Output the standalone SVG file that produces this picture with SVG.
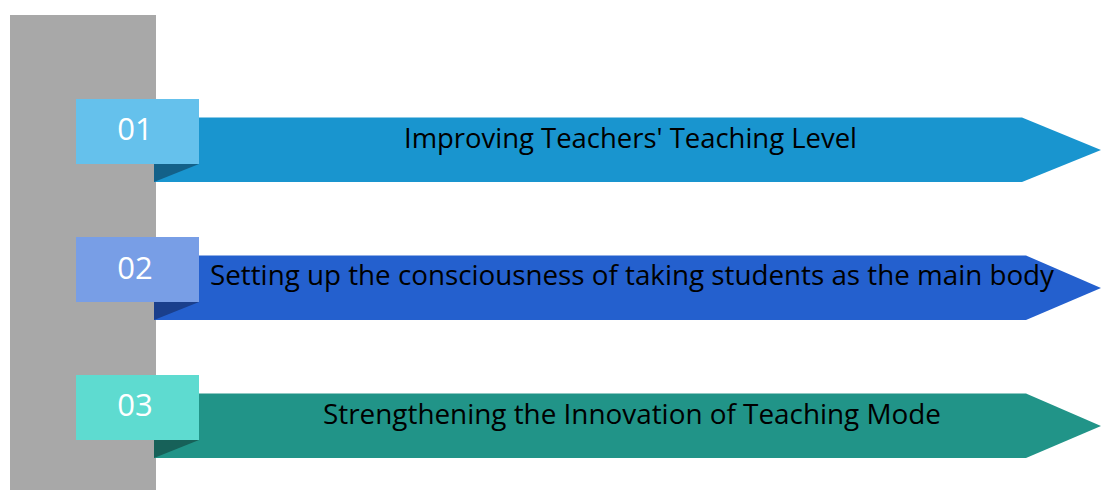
<svg xmlns="http://www.w3.org/2000/svg" width="1101" height="490" viewBox="0 0 1101 490">
<style>
.lbl{font-family:"Open Sans","Liberation Sans",sans-serif;font-size:28px;fill:#000;text-anchor:middle}
.num{font-family:"Open Sans","Liberation Sans",sans-serif;font-size:31px;fill:#fff;text-anchor:middle}
</style>
<rect x="0" y="0" width="1101" height="490" fill="#fff"/>
<rect id="bar" x="10" y="15" width="146" height="475" fill="#a8a8a8"/>
<g id="item1">
<polygon points="154,117.5 1022,117.5 1101,150 1022,182 154,182" fill="#1995cf"/>
<polygon points="154,164 199,164 154,182" fill="#136189"/>
<rect x="76" y="99" width="123" height="65" fill="#65c1ec"/>
<text class="num" x="135" y="139.5">01</text>
<text class="lbl" x="630.5" y="147.5" textLength="453" lengthAdjust="spacingAndGlyphs">Improving Teachers' Teaching Level</text>
</g>
<g id="item2">
<polygon points="154,255.5 1026,255.5 1101,288 1026,320 154,320" fill="#2460ce"/>
<polygon points="154,302 199,302 154,320" fill="#1a3f8c"/>
<rect x="76" y="237" width="123" height="65" fill="#789ee6"/>
<text class="num" x="135" y="278.5">02</text>
<text class="lbl" x="632" y="284.5" textLength="844" lengthAdjust="spacingAndGlyphs">Setting up the consciousness of taking students as the main body</text>
</g>
<g id="item3">
<polygon points="154,393.5 1026,393.5 1101,426 1026,458 154,458" fill="#219488"/>
<polygon points="154,440 199,440 154,458" fill="#176159"/>
<rect x="76" y="375" width="123" height="65" fill="#5edbd0"/>
<text class="num" x="135" y="415.5">03</text>
<text class="lbl" x="632" y="423.5" textLength="618" lengthAdjust="spacingAndGlyphs">Strengthening the Innovation of Teaching Mode</text>
</g>
<g id="connectors"/>
</svg>
